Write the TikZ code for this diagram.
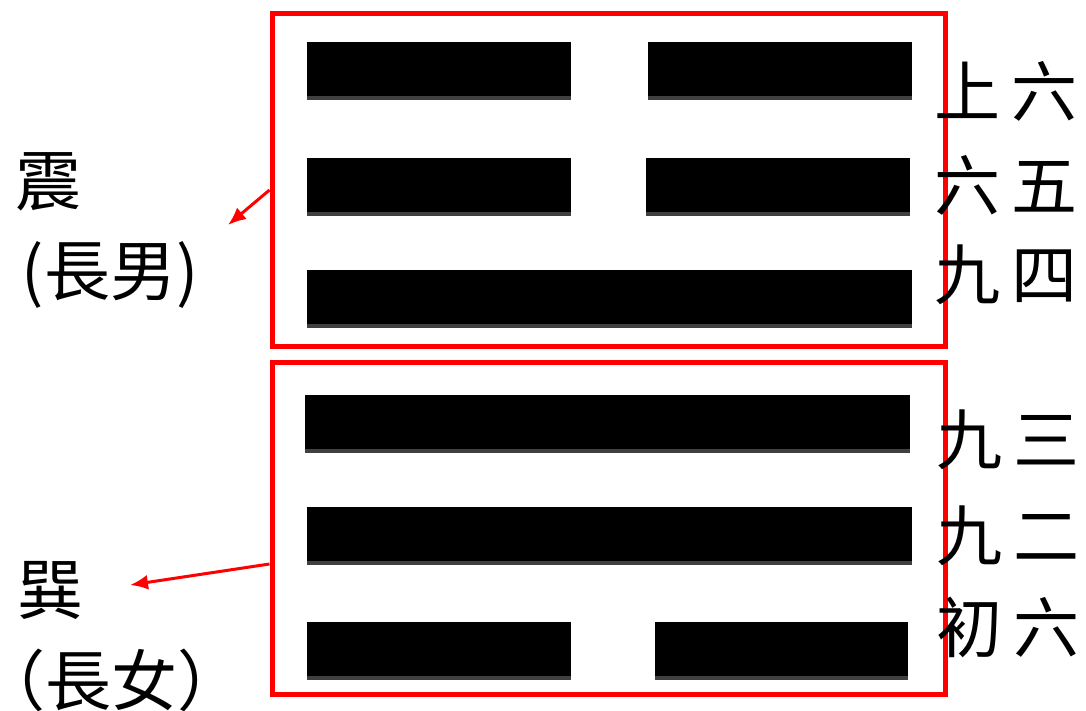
\documentclass[tikz,border=0pt]{standalone}
\usepackage{fontspec}
\newfontfamily\cjk{Noto Sans CJK TC}
\usetikzlibrary{arrows.meta}

\begin{document}
\begin{tikzpicture}[
  x=1pt, y=-1pt,
  >=Latex,
  bar/.style={fill=black, inner sep=0pt, minimum height=58pt,
    path picture={\fill[black!75] (path picture bounding box.south west) rectangle ([yshift=4pt]path picture bounding box.south east);}},
  yang/.style={bar, minimum width=605pt},
  yin/.style={bar, minimum width=264pt},
  gua/.style={draw=red, line width=5pt, minimum width=673pt, minimum height=332pt, inner sep=0pt},
  lbl/.style={font=\cjk\fontsize{66}{66}\selectfont, inner sep=0pt},
  line/.style={-{Latex[length=18pt,width=15pt]}, red, line width=3pt}
]
\useasboundingbox (0,0) rectangle (1086,711);

% Upper trigram (zhen)
\node[gua] (upper) at (608.5,180) {};
\node[yin]  (l6a) at (439,71) {};
\node[yin]  (l6b) at (780,71) {};
\node[yin]  (l5a) at (439,187) {};
\node[yin]  (l5b) at (778,187) {};
\node[yang] (l4)  at (609.5,299) {};

% Lower trigram (xun)
\node[gua] (lower) at (608.5,528) {};
\node[yang] (l3)  at (607.5,423.5) {};
\node[yang] (l2)  at (609.5,535.5) {};
\node[yin]  (l1a) at (439,651) {};
\node[yin, minimum width=253pt] (l1b) at (781.5,651) {};

% Line names
\node[lbl] (n6) at (1006,91)  {上\hspace{12pt}六};
\node[lbl] (n5) at (1006,185) {六\hspace{12pt}五};
\node[lbl] (n4) at (1006,275) {九\hspace{12pt}四};
\node[lbl] (n3) at (1008,440) {九\hspace{12pt}三};
\node[lbl] (n2) at (1008,536) {九\hspace{12pt}二};
\node[lbl] (n1) at (1008,627) {初\hspace{12pt}六};

% Trigram names
\node[lbl] (zhen)    at (49,182)  {震};
\node[lbl] (zhenSub) at (110,275) {(長男)};
\node[lbl] (xun)     at (50,590)  {巽};
\node[lbl] (xunSub)  at (112,680) {（長女）};

% Arrows
\coordinate (zhenTip) at (228,225);
\coordinate (xunTip)  at (130,585);
\draw[line] ([yshift=-10pt]upper.west) -- (zhenTip);
\draw[line] ([yshift=-36pt]lower.west) -- (xunTip);

\end{tikzpicture}
\end{document}
